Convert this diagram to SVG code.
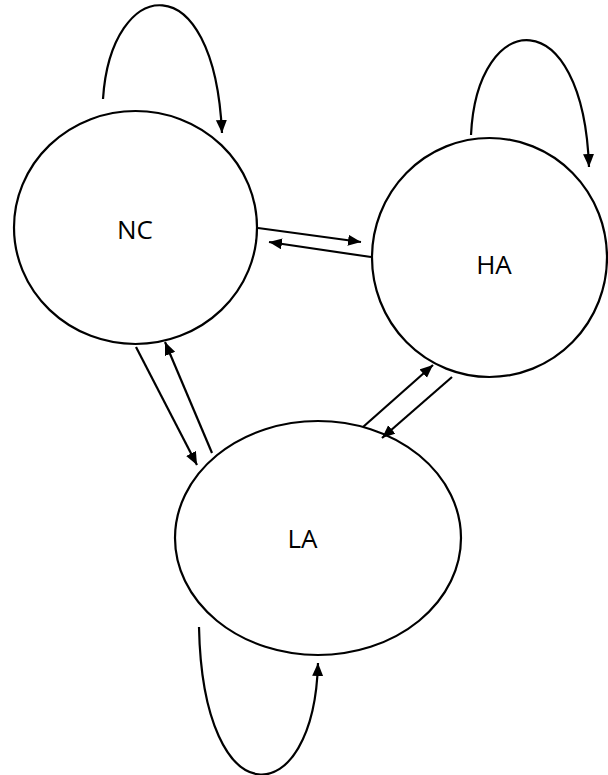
<svg xmlns="http://www.w3.org/2000/svg" width="608" height="775" viewBox="0 0 608 775">
  <style>
    .node { fill: #ffffff; stroke: #000000; stroke-width: 2.2; }
    .label { font-family: "Open Sans", "Liberation Sans", sans-serif; font-size: 26px; fill: #000000; text-anchor: middle; }
    .edge { fill: none; stroke: #000000; stroke-width: 2.2; marker-end: url(#arrow); }
  </style>
  <defs>
    <marker id="arrow" markerUnits="userSpaceOnUse" markerWidth="15" markerHeight="13" refX="13" refY="5.5" orient="auto">
      <path d="M0,0 L13,5.5 L0,11 Z" fill="#000000"/>
    </marker>
  </defs>

  <rect width="608" height="775" fill="#ffffff"/>

  <g id="node-NC">
    <ellipse class="node" cx="135.5" cy="227.5" rx="121.5" ry="116.5"/>
    <text class="label" x="135" y="239">NC</text>
  </g>

  <g id="node-HA">
    <ellipse class="node" cx="489.5" cy="257.5" rx="117.5" ry="119.5"/>
    <text class="label" x="494" y="274">HA</text>
  </g>

  <g id="node-LA">
    <ellipse class="node" cx="318" cy="538" rx="143" ry="117"/>
    <text class="label" x="302.5" y="548">LA</text>
  </g>

  <g id="connectors">
    <!-- self loops -->
    <path class="edge" d="M103,99 C111,-24 214,-39 222,133"/>
    <path class="edge" d="M471,135 C477,8 583,-1 589,167"/>
    <path class="edge" d="M199,627 C203,822 314,813 318,663"/>
    <!-- NC <-> HA -->
    <path class="edge" d="M258,228 L361,242"/>
    <path class="edge" d="M371,257 L269,242"/>
    <!-- NC <-> LA -->
    <path class="edge" d="M136,347 L197,465"/>
    <path class="edge" d="M212,453 L165,342"/>
    <!-- LA <-> HA -->
    <path class="edge" d="M363,427 L433,365"/>
    <path class="edge" d="M452,377 L382,438"/>
  </g>
</svg>
